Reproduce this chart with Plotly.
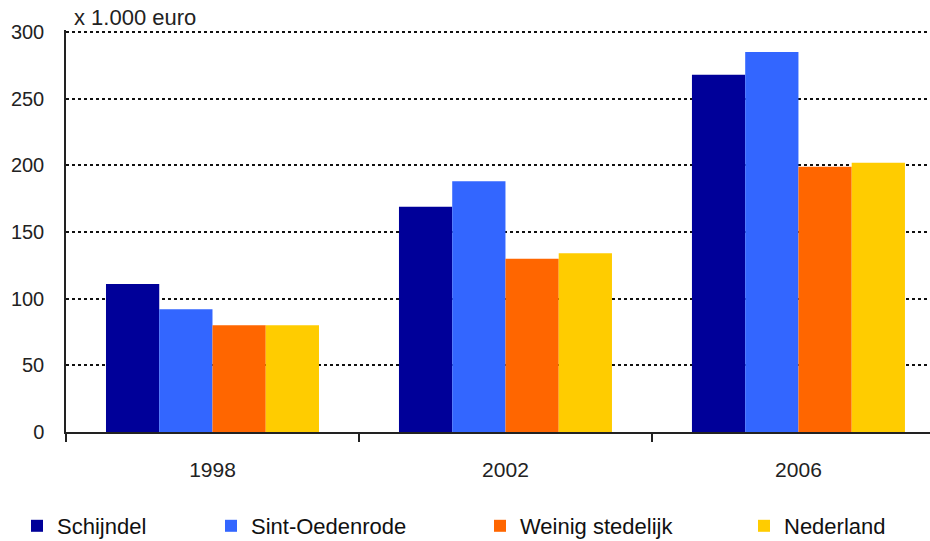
import plotly.graph_objects as go

years = ["1998", "2002", "2006"]
series_names = ["Schijndel", "Sint-Oedenrode", "Weinig stedelijk", "Nederland"]
schijndel = [111, 169, 268]
sint_oedenrode = [92, 188, 285]
weinig_stedelijk = [80, 130, 199]
nederland = [80, 134, 202]
colors = ["#000099", "#3366FF", "#FF6600", "#FFCC00"]
y_ticks = [0, 50, 100, 150, 200, 250, 300]
unit_label = "x 1.000 euro"

FONT = "Liberation Sans, Arial, sans-serif"
L, R, T, B = 66, 0, 30, 109
W, H = 930, 541
PW = W - L - R
PH = H - T - B
Y_TOP = 300 * PH / 400.0

def px_x(p):
    return (p - L) / PW

def px_y(p):
    return (H - B - p) / PH

fig = go.Figure()
values = [schijndel, sint_oedenrode, weinig_stedelijk, nederland]
legend_ids = ["legend", "legend2", "legend3", "legend4"]
text_starts = [59, 253, 522, 786]
for name, vals, col, lid in zip(series_names, values, colors, legend_ids):
    fig.add_trace(go.Bar(
        x=years, y=vals, name=name, marker=dict(color=col, line=dict(width=0)),
        legend=lid,
    ))

layout_legends = {}
for lid, ts in zip(legend_ids, text_starts):
    layout_legends[lid] = dict(
        x=px_x(ts - 42), xanchor="left",
        y=px_y(526), yanchor="middle",
        orientation="h",
        font=dict(family=FONT, size=22, color="#111111"),
        bgcolor="rgba(0,0,0,0)", borderwidth=0,
        itemclick=False, itemdoubleclick=False,
    )

fig.update_layout(
    width=W, height=H,
    margin=dict(l=L, r=R, t=T, b=B, pad=0, autoexpand=False),
    paper_bgcolor="white", plot_bgcolor="white",
    barmode="group", bargap=0.273, bargroupgap=0,
    font=dict(family=FONT, size=20, color="#222222"),
    showlegend=True,
    **layout_legends,
)

fig.update_xaxes(
    type="category", range=[-0.5, 2.449],
    showline=True, linecolor="#222222", linewidth=1.5,
    ticks="outside", tickson="boundaries", ticklen=8, tickwidth=1.5, tickcolor="#222222",
    tickfont=dict(family=FONT, size=21, color="#222222"),
    ticklabelstandoff=18,
    showgrid=False, zeroline=False,
)
fig.update_yaxes(
    range=[0, Y_TOP], tickvals=y_ticks,
    showline=True, linecolor="#222222", linewidth=1.5,
    ticks="", ticklabelstandoff=16,
    tickfont=dict(family=FONT, size=20, color="#222222"),
    showgrid=True, gridcolor="#111111", gridwidth=1.5, griddash="dot",
    zeroline=False,
)

fig.add_annotation(
    text=unit_label, xref="paper", yref="paper",
    x=px_x(72), y=px_y(18), xanchor="left", yanchor="middle",
    showarrow=False, font=dict(family=FONT, size=22, color="#222222"),
)

fig.write_html("out.html")
